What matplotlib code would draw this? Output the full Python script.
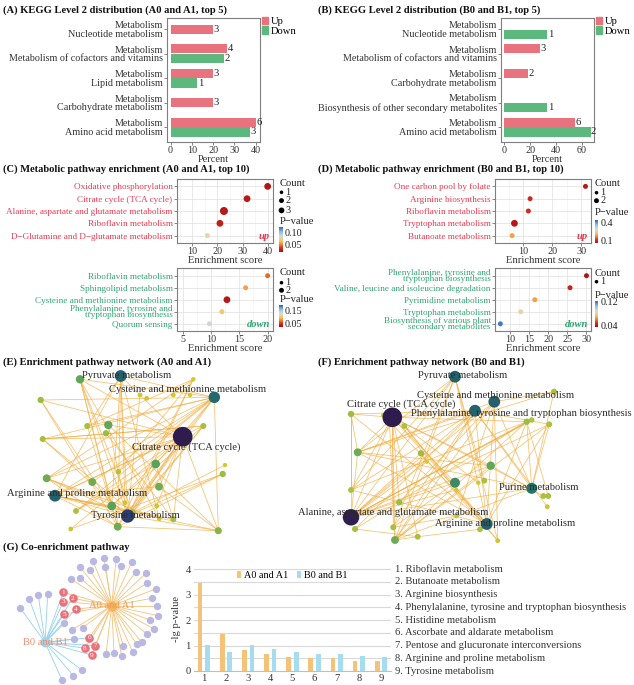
import matplotlib
matplotlib.use("Agg")
import matplotlib.pyplot as plt
import numpy as np
from matplotlib.patches import Patch
from matplotlib.colors import LinearSegmentedColormap, Normalize
from matplotlib.cm import ScalarMappable
from matplotlib.collections import LineCollection
import matplotlib.transforms as mtransforms

plt.rcParams['font.family'] = ['Liberation Serif', 'DejaVu Serif']
plt.rcParams['axes.unicode_minus'] = True

# ------------------------------------------------------------------ data
# (A) KEGG level 2, A0 vs A1
kegg_A_cats = ["Nucleotide metabolism", "Metabolism of cofactors and vitamins",
               "Lipid metabolism", "Carbohydrate metabolism", "Amino acid metabolism"]
kegg_A_up_pct = [20.0, 26.7, 20.0, 20.0, 40.0]
kegg_A_up_cnt = [3, 4, 3, 3, 6]
kegg_A_dn_pct = [None, 25.0, 12.5, None, 37.5]
kegg_A_dn_cnt = [None, 2, 1, None, 3]

# (B) KEGG level 2, B0 vs B1
kegg_B_cats = ["Nucleotide metabolism", "Metabolism of cofactors and vitamins",
               "Carbohydrate metabolism", "Biosynthesis of other secondary metabolites",
               "Amino acid metabolism"]
kegg_B_up_pct = [None, 27.3, 18.2, None, 54.5]
kegg_B_up_cnt = [None, 3, 2, None, 6]
kegg_B_dn_pct = [33.3, None, None, 33.3, 66.7]
kegg_B_dn_cnt = [1, None, None, 1, 2]

# (C) enrichment A0/A1
enr_Cu_terms = ["Oxidative phosphorylation", "Citrate cycle (TCA cycle)",
                "Alanine, aspartate and glutamate metabolism", "Riboflavin metabolism",
                "D\u2212Glutamine and D\u2212glutamate metabolism"]
enr_Cu_score = [40.0, 31.8, 22.6, 21.0, 16.0]
enr_Cu_count = [2, 2, 3, 2, 1]
enr_Cu_p = [0.020, 0.022, 0.022, 0.025, 0.075]

enr_Cd_terms = ["Riboflavin metabolism", "Sphingolipid metabolism",
                "Cysteine and methionine metabolism",
                "Phenylalanine, tyrosine and\ntryptophan biosynthesis", "Quorum sensing"]
enr_Cd_score = [20.0, 16.1, 12.8, 11.9, 9.7]
enr_Cd_count = [1, 1, 2, 1, 1]
enr_Cd_p = [0.065, 0.082, 0.032, 0.099, 0.124]

# (D) enrichment B0/B1
enr_Du_terms = ["One carbon pool by folate", "Arginine biosynthesis", "Riboflavin metabolism",
                "Tryptophan metabolism", "Butanoate metabolism"]
enr_Du_score = [31.4, 12.3, 11.7, 6.9, 6.1]
enr_Du_count = [1, 1, 1, 2, 1]
enr_Du_p = [0.076, 0.104, 0.104, 0.076, 0.193]

enr_Dd_terms = ["Phenylalanine, tyrosine and\ntryptophan biosynthesis",
                "Valine, leucine and isoleucine degradation", "Pyrimidine metabolism",
                "Tryptophan metabolism", "Biosynthesis of various plant\nsecondary metabolites"]
enr_Dd_score = [30.0, 25.7, 16.5, 12.8, 7.5]
enr_Dd_count = [1, 1, 1, 1, 1]
enr_Dd_p = [0.040, 0.045, 0.067, 0.084, 0.118]

# (E) network A0/A1 : layout x, layout y, centrality
netE_x = [80, 120.7, 193.3, 214.3, 40.7, 140, 146.7, 173.3, 190, 87.3, 108.3, 106, 203.3,
          182.7, 42.7, 155.7, 225, 222.7, 118.3, 46.7, 92.3, 159, 55, 111.7, 76, 125,
          156.7, 127.7, 132.7, 173.3, 117.7, 70.7, 218.3, 159.3]
netE_y = [379.3, 376, 379.3, 397.3, 400, 395, 398.3, 395, 395, 426, 425, 433.3, 426,
          436.7, 439, 464, 465, 474, 471.7, 478.3, 482, 486.7, 495.7, 506, 511, 502.7,
          506, 516, 512.7, 519.3, 526.7, 529, 530.7, 518.7]
netE_w = [0.28, 0.5, 0.03, 0.48, 0.15, 0.05, 0.05, 0.05, 0.03, 0.13, 0.28, 0.15, 0.13,
          1.0, 0.13, 0.3, 0.02, 0.15, 0.1, 0.25, 0.25, 0.25, 0.5, 0.3, 0.12, 0.05,
          0.05, 0.6, 0.15, 0.13, 0.25, 0.05, 0.2, 0.05]
netE_edges = [(1, 27), (1, 30), (1, 23), (1, 13), (1, 9), (1, 22), (1, 33), (1, 3),
              (0, 27), (0, 23), (0, 13), (0, 3), (0, 30),
              (3, 4), (3, 13), (3, 27), (3, 32), (3, 19), (3, 15), (3, 22), (3, 9),
              (4, 13), (4, 30), (4, 23),
              (13, 27), (13, 28), (13, 23), (13, 22), (13, 19), (13, 30), (13, 14), (13, 24),
              (13, 29), (13, 32), (13, 10), (13, 21),
              (27, 22), (27, 19), (27, 12), (27, 17), (27, 32), (27, 14), (27, 15), (27, 2),
              (27, 10), (27, 5),
              (22, 29), (22, 30), (22, 32), (22, 28), (22, 23), (22, 12),
              (19, 28), (19, 33), (19, 30), (19, 2), (28, 12), (28, 16), (28, 0),
              (14, 3), (14, 12), (14, 28), (15, 29), (15, 24), (2, 9), (2, 30), (2, 18),
              (17, 31), (17, 30), (31, 13), (32, 30), (32, 21), (12, 23), (12, 14),
              (9, 30), (10, 32), (11, 29), (18, 3), (20, 3), (21, 22), (24, 3), (26, 13),
              (25, 1), (33, 0)]
netE_labels = ["Pyruvate metabolism", "Cysteine and methionine metabolism",
               "Citrate cycle (TCA cycle)", "Arginine and proline metabolism",
               "Tyrosine metabolism"]

# (F) network B0/B1
netF_x = [455, 554, 494.3, 475, 392.3, 351, 383.3, 389, 404.3, 526.7, 531.7, 549.3, 357.7,
          421, 426.7, 490.7, 351, 455, 478.3, 484.3, 456.3, 531.7, 543.3, 548.3, 547.3,
          399.3, 351, 355, 393.3, 395, 417.7, 456.7, 486.7, 480, 497.7]
netF_y = [376.7, 391.7, 401.7, 410.7, 417.3, 414, 415, 413.3, 426, 421.7, 420, 424.3,
          452.3, 453.3, 461.7, 465.7, 490, 482.7, 482.7, 480.7, 490, 488.3, 496, 496,
          506.7, 502.3, 517.3, 529, 527.3, 540, 536.7, 516, 524, 529.3, 540.7]
netF_w = [0.5, 0.13, 0.5, 0.5, 1.0, 0.15, 0.03, 0.03, 0.12, 0.15, 0.1, 0.12, 0.25, 0.15,
          0.02, 0.28, 0.12, 0.38, 0.03, 0.12, 0.03, 0.45, 0.12, 0.12, 0.05, 0.15, 0.8,
          0.13, 0.13, 0.25, 0.12, 0.05, 0.5, 0.12, 0.05]
netF_edges = [(4, 26), (4, 5), (4, 12), (4, 16), (4, 28), (4, 29), (4, 32), (4, 17), (4, 3),
              (4, 15), (4, 21), (4, 30), (4, 9), (4, 25),
              (26, 3), (26, 2), (26, 9), (26, 11), (26, 15), (26, 17), (26, 21), (26, 10),
              (26, 0), (26, 12), (26, 5), (26, 13),
              (3, 16), (3, 29), (3, 28), (3, 27), (3, 32), (3, 21), (3, 12), (3, 5), (3, 11),
              (2, 25), (2, 29), (2, 12), (2, 32), (2, 21), (2, 34),
              (0, 29), (0, 28), (0, 32), (0, 16), (0, 12), (0, 34),
              (32, 5), (32, 12), (32, 8), (32, 11), (32, 9), (32, 16),
              (21, 11), (21, 12), (21, 29), (21, 1), (21, 9), (9, 29), (9, 16), (9, 27),
              (1, 12), (1, 2), (11, 29), (12, 15), (15, 29), (13, 34), (17, 28), (5, 12),
              (5, 16), (27, 30), (28, 31), (29, 30), (30, 33), (8, 34), (22, 15), (23, 9),
              (24, 3), (14, 26), (18, 4), (19, 0), (20, 26), (31, 2), (6, 32), (7, 29),
              (10, 26)]
netF_labels = ["Pyruvate metabolism", "Cysteine and methionine metabolism",
               "Citrate cycle (TCA cycle)",
               "Phenylalanine, tyrosine and tryptophan biosynthesis",
               "Purine metabolism", "Alanine, aspartate and glutamate metabolism",
               "Arginine and proline metabolism"]

# (G) co-enrichment network
g_hub_names = ["A0 and A1", "B0 and B1"]
g_hub_x = [111.7, 45]
g_hub_y = [605.7, 642.3]
g_shared_x = [63.3, 72.7, 63.3, 76, 64.3, 89.3, 95, 85, 91.7]
g_shared_y = [592.3, 598.3, 601.7, 609, 614, 637.7, 645.7, 648.3, 655]
g_onlyA_x = [92.7, 104, 116, 131.7, 80, 90, 105, 120.7, 135.7, 145.7, 71, 80, 146.7, 155.7,
             151.7, 157.3, 158.3, 150, 154, 146.7, 141.7, 136.7, 123.3, 132.7, 114, 106,
             121.7, 82.7, 71.7]
g_onlyA_y = [561, 557.7, 559, 562.3, 567.3, 570, 566.7, 565.7, 571.7, 573.3, 579, 577.7,
             583.3, 589, 598.3, 605.7, 615.7, 620, 629, 633.7, 642.3, 644.3, 645.7, 651.7,
             652.7, 654, 656, 627.7, 630]
g_onlyB_x = [20, 29.3, 38.3, 47.7, 62, 73.3, 81.7, 64.3, 74]
g_onlyB_y = [607.7, 599.3, 595, 594.3, 680, 675.7, 670, 623.3, 639]

# (G) co-enriched pathways, -lg p
co_terms = ["Riboflavin metabolism", "Butanoate metabolism", "Arginine biosynthesis",
            "Phenylalanine, tyrosine and tryptophan biosynthesis", "Histidine metabolism",
            "Ascorbate and aldarate metabolism", "Pentose and glucuronate interconversions",
            "Arginine and proline metabolism", "Tyrosine metabolism"]
co_A = [3.44, 1.45, 0.82, 0.67, 0.55, 0.52, 0.50, 0.38, 0.38]
co_B = [1.02, 0.73, 1.02, 0.86, 0.73, 0.67, 0.67, 0.58, 0.54]

# ------------------------------------------------------------------ style
UP_COL = "#e8727d"
DOWN_COL = "#5cb87c"
RED_TXT = "#e8384f"
GREEN_TXT = "#2fa36f"
GREY_SP = "#7f7f7f"
TXT = "#333333"

p_cmap = LinearSegmentedColormap.from_list("pv", [
    (0.0, "#a50f15"), (0.15, "#d7301f"), (0.3, "#f08a35"), (0.42, "#f3c45a"),
    (0.55, "#ddd8b8"), (0.65, "#cfd5dc"), (0.8, "#8cbde3"), (1.0, "#2b64b0")])
net_cmap = LinearSegmentedColormap.from_list("net", [
    (0.0, "#dccb2c"), (0.1, "#b5c23a"), (0.2, "#86b44b"), (0.32, "#4f9e5f"),
    (0.46, "#22706e"), (0.6, "#2b3d6c"), (0.78, "#2f1f4f"), (1.0, "#2d1c4c")])

W, H = 634, 685
fig = plt.figure(figsize=(W / 100, H / 100), dpi=100)


def ax_px(x0, y0, x1, y1, **kw):
    return fig.add_axes([x0 / W, 1 - y1 / H, (x1 - x0) / W, (y1 - y0) / H], **kw)


def ftext(x, y, s, **kw):
    fig.text(x / W, 1 - y / H, s, **kw)


def area_px(d_px):
    return (d_px * 0.72) ** 2


TITLE_KW = dict(fontsize=7.6, fontweight='bold', ha='left', va='center', color='#111111')
ENR_LAB = 6.6

# ------------------------------------------------------------------ KEGG bars


def kegg_panel(box, cats, up_pct, up_cnt, dn_pct, dn_cnt, xlim, xticks, dodge_single, legx):
    ax = ax_px(*box)
    n = len(cats)
    h = 0.38
    for i in range(n):
        both = up_pct[i] is not None and dn_pct[i] is not None
        for val, cnt, col, off in [(up_pct[i], up_cnt[i], UP_COL, -0.2),
                                   (dn_pct[i], dn_cnt[i], DOWN_COL, 0.2)]:
            if val is None:
                continue
            yy = i + (off if (both or dodge_single) else 0)
            ax.barh(yy, val, height=h, color=col, zorder=2)
            ax.text(val + (xlim[1] - xlim[0]) * 0.005, yy, str(cnt), va='center', ha='left',
                    fontsize=7.6, color='#222222')
    ax.set_ylim(n - 0.4, -0.45)
    ax.set_xlim(*xlim)
    ax.set_xticks(xticks)
    ax.set_yticks(range(n))
    ax.set_yticklabels(["Metabolism\n" + c for c in cats], fontsize=7.3, linespacing=0.95,
                       color=TXT)
    ax.tick_params(length=2, width=0.5, color='#555555', pad=1, labelsize=7.3,
                   labelcolor=TXT)
    for s in ax.spines.values():
        s.set_color(GREY_SP)
        s.set_linewidth(0.8)
    ax.set_xlabel("Percent", fontsize=7.5, labelpad=0, color=TXT)
    handles = [Patch(color=UP_COL, label='Up'), Patch(color=DOWN_COL, label='Down')]
    fig.legend(handles=handles, loc='upper left', bbox_to_anchor=(legx / W, 1 - 17 / H),
               frameon=False, fontsize=7.6, handlelength=0.6, handleheight=0.7,
               handletextpad=0.25, labelspacing=0.0, borderaxespad=0, borderpad=0)
    return ax


kegg_panel((167, 18.3, 260, 141.7), kegg_A_cats, kegg_A_up_pct, kegg_A_up_cnt,
           kegg_A_dn_pct, kegg_A_dn_cnt, (-1.7, 42), [0, 10, 20, 30, 40], False, 262)
ftext(3, 10, "(A) KEGG Level 2 distribution (A0 and A1, top 5)", **TITLE_KW)
kegg_panel((501, 18.3, 594, 141.7), kegg_B_cats, kegg_B_up_pct, kegg_B_up_cnt,
           kegg_B_dn_pct, kegg_B_dn_cnt, (-2.6, 69.4), [0, 20, 40, 60], True, 596)
ftext(317.5, 10, "(B) KEGG Level 2 distribution (B0 and B1, top 5)", **TITLE_KW)

# ------------------------------------------------------------------ enrichment dots
COUNT_D = {1: 5.0, 2: 6.8, 3: 8.0}
overlay_items = []


def enrich_panel(box, terms, scores, counts, pvals, txt_col, xlim, xticks, minor, tag,
                 vmin, vmax, cticks, clabels, count_levels, leg):
    ax = ax_px(*box)
    n = len(terms)
    y = np.arange(n)
    norm = Normalize(vmin, vmax)
    ax.scatter(scores, y, s=[area_px(COUNT_D[c]) for c in counts], c=pvals, cmap=p_cmap,
               norm=norm, zorder=3, linewidths=0)
    ax.set_ylim(n - 1 + 0.6, -0.6)
    ax.set_xlim(*xlim)
    ax.set_xticks(xticks)
    ax.set_xticks(minor, minor=True)
    ax.set_yticks(y)
    ax.set_yticklabels(terms, fontsize=ENR_LAB, linespacing=0.7)
    ax.grid(which='major', color='#e4e4e4', lw=0.6)
    ax.grid(which='minor', axis='x', color='#f0f0f0', lw=0.4)
    ax.set_axisbelow(True)
    ax.tick_params(length=2, width=0.5, color='#555555', pad=1, labelsize=7.3,
                   labelcolor=TXT)
    ax.tick_params(axis='y', labelsize=ENR_LAB)
    ax.tick_params(which='minor', length=0)
    for t in ax.get_yticklabels():
        t.set_color(txt_col)
    for s in ax.spines.values():
        s.set_color(GREY_SP)
        s.set_linewidth(0.8)
    ax.set_xlabel("Enrichment score", fontsize=7.6, labelpad=0, color=TXT)
    ax.text(0.97, 0.03, tag, transform=ax.transAxes, ha='right', va='bottom', fontsize=7.6,
            fontweight='bold', fontstyle='italic', color=txt_col)
    # legends
    ftext(leg['x'], leg['count_y'], "Count", fontsize=7.6, va='center', ha='left',
          color='#222222')
    for c, yy in zip(count_levels, leg['dot_ys']):
        overlay_items.append((leg['dot_x'], yy, COUNT_D[c] * 0.72))
        ftext(leg['dot_x'] + 4, yy, str(c), fontsize=7.3, va='center', ha='left',
              color='#222222')
    ftext(leg['x'], leg['p_y'], "P\u2212value", fontsize=7.6, va='center', ha='left',
          color='#222222')
    cx0, cy0, cx1, cy1 = leg['cb']
    cax = ax_px(cx0, cy0, cx1, cy1)
    cb = fig.colorbar(ScalarMappable(norm=norm, cmap=p_cmap), cax=cax, ticks=cticks)
    cb.outline.set_visible(False)
    cb.ax.set_yticklabels(clabels)
    cax.tick_params(length=0, labelsize=7.3, pad=1.5, labelcolor='#222222')
    return ax


enrich_panel((176.7, 179, 272.7, 243), enr_Cu_terms, enr_Cu_score, enr_Cu_count, enr_Cu_p,
             RED_TXT, (3.8, 42), [10, 20, 30, 40], [5, 15, 25, 35], "up",
             0.016, 0.127, [0.05, 0.10], ["0.05", "0.10"], [1, 2, 3],
             dict(x=279.3, count_y=183.3, dot_x=281.5, dot_ys=[192.3, 200.6, 210.4],
                  p_y=221, cb=(279, 226.7, 282.7, 251.7)))
enrich_panel((176.7, 268.5, 272.7, 331), enr_Cd_terms, enr_Cd_score, enr_Cd_count, enr_Cd_p,
             GREEN_TXT, (3.9, 20.9), [5, 10, 15, 20], [7.5, 12.5, 17.5], "down",
             0.024, 0.19, [0.05, 0.15], ["0.05", "0.15"], [1, 2],
             dict(x=279.3, count_y=272.3, dot_x=281.5, dot_ys=[282.7, 290.3],
                  p_y=300, cb=(279, 305, 282.7, 326.7)))
ftext(3, 169, "(C) Metabolic pathway enrichment (A0 and A1, top 10)", **TITLE_KW)

enrich_panel((495, 179, 590.7, 243), enr_Du_terms, enr_Du_score, enr_Du_count, enr_Du_p,
             RED_TXT, (0.2, 33.2), [10, 20, 30], [5, 15, 25], "up",
             0.057, 0.445, [0.1, 0.4], ["0.1", "0.4"], [1, 2],
             dict(x=594.3, count_y=183.7, dot_x=596.5, dot_ys=[192.7, 200.7],
                  p_y=212.3, cb=(594.5, 220, 598.2, 243.3)))
enrich_panel((495, 268.5, 590.7, 331), enr_Dd_terms, enr_Dd_score, enr_Dd_count, enr_Dd_p,
             GREEN_TXT, (6.1, 31.1), [10, 15, 20, 25, 30], [7.5, 12.5, 17.5, 22.5, 27.5],
             "down", 0.037, 0.123, [0.04, 0.12], ["0.04", "0.12"], [1],
             dict(x=594.3, count_y=273.3, dot_x=596.5, dot_ys=[281.7],
                  p_y=295, cb=(594.5, 300.7, 598.2, 326.7)))
ftext(317.5, 169, "(D) Metabolic pathway enrichment (B0 and B1, top 10)", **TITLE_KW)

# ------------------------------------------------------------------ networks E / F


def r_of(w):
    return 2 + 7.8 * w


def network(box, xs, ys, ws, edges, labels, label_xy):
    ax = ax_px(*box)
    ax.set_xlim(box[0], box[2])
    ax.set_ylim(box[3], box[1])
    ax.axis('off')
    segs = [[(xs[a], ys[a]), (xs[b], ys[b])] for a, b in edges]
    ax.add_collection(LineCollection(segs, colors="#f2ac3c", linewidths=0.55, alpha=0.75,
                                     zorder=1))
    order = np.argsort(ws)
    ax.scatter(np.array(xs)[order], np.array(ys)[order],
               s=[area_px(2 * r_of(ws[i])) for i in order],
               c=[net_cmap(ws[i]) for i in order], linewidths=0, zorder=2)
    for lab, (lx, ly) in zip(labels, label_xy):
        ax.text(lx, ly, lab, ha='center', va='center', fontsize=7.6, color='#2b2b2b',
                zorder=3)
    return ax


network((0, 365, 315, 545), netE_x, netE_y, netE_w, netE_edges, netE_labels,
        [(126.7, 376), (187.5, 389.3), (186, 446.7), (77, 493.3), (135.3, 515)])
ftext(3, 361.7, "(E) Enrichment pathway network (A0 and A1)", **TITLE_KW)
network((316, 365, 634, 545), netF_x, netF_y, netF_w, netF_edges, netF_labels,
        [(462.5, 375.7), (496, 395), (401.2, 404.3), (521.3, 413.3), (538.8, 487.3),
         (393.5, 512.7), (505, 523.3)])
ftext(318, 362.3, "(F) Enrichment pathway network (B0 and B1)", **TITLE_KW)

# ------------------------------------------------------------------ (G) network
ftext(3, 547.3, "(G) Co-enrichment pathway", **TITLE_KW)
gx = ax_px(0, 552, 185, 685)
gx.set_xlim(0, 185)
gx.set_ylim(685, 552)
gx.axis('off')
hubA = (g_hub_x[0], g_hub_y[0])
hubB = (g_hub_x[1], g_hub_y[1])
segA = [[hubA, (x, y)] for x, y in zip(g_onlyA_x + g_shared_x, g_onlyA_y + g_shared_y)]
segB = [[hubB, (x, y)] for x, y in zip(g_onlyB_x + g_shared_x, g_onlyB_y + g_shared_y)]
gx.add_collection(LineCollection(segA, colors="#f3c27a", linewidths=0.6, zorder=1))
gx.add_collection(LineCollection(segB, colors="#93d1ea", linewidths=0.6, zorder=1))
gx.scatter(g_onlyA_x + g_onlyB_x, g_onlyA_y + g_onlyB_y, s=area_px(7.4), c="#b9b8e2",
           linewidths=0, zorder=2)
gx.scatter(g_shared_x, g_shared_y, s=area_px(8.6), c="#e9737c", linewidths=0, zorder=2)
for i, (x, y) in enumerate(zip(g_shared_x, g_shared_y)):
    gx.text(x, y, str(i + 1), ha='center', va='center', fontsize=5.2, color='white',
            zorder=3)
gx.scatter([hubA[0]], [hubA[1]], s=area_px(10), c="#f3b45e", linewidths=0, zorder=2)
gx.scatter([hubB[0]], [hubB[1]], s=area_px(10), c="#9dd5ea", linewidths=0, zorder=2)
gx.text(hubA[0], hubA[1], g_hub_names[0], ha='center', va='center', fontsize=7.6,
        color="#f1975a", zorder=3)
gx.text(hubB[0], hubB[1], g_hub_names[1], ha='center', va='center', fontsize=7.6,
        color="#ee8c6e", zorder=3)

# ------------------------------------------------------------------ (G) bars
bx = ax_px(193.5, 566, 390.7, 671)
xpos = np.arange(1, len(co_terms) + 1)
bx.bar(xpos - 0.17, co_A, width=0.21, color="#f5c27a", zorder=2, label="A0 and A1")
bx.bar(xpos + 0.17, co_B, width=0.21, color="#a6dcef", zorder=2, label="B0 and B1")
bx.set_xlim(0.53, 9.44)
bx.set_ylim(0, 4.12)
bx.set_yticks([0, 1, 2, 3, 4])
bx.set_yticks([0.5, 1.5, 2.5, 3.5], minor=True)
bx.set_xticks(xpos)
bx.grid(axis='y', which='both', color='#d9d9d9', lw=0.8)
bx.set_axisbelow(True)
for k in ['left', 'top', 'right']:
    bx.spines[k].set_visible(False)
bx.spines['bottom'].set_color('#bfbfbf')
bx.tick_params(length=0, labelsize=7.6, labelcolor=TXT, pad=2)
bx.tick_params(which='minor', length=0)
bx.set_ylabel("-lg p-value", fontsize=7.6, color=TXT, labelpad=3)
trans = mtransforms.blended_transform_factory(bx.transAxes, bx.transData)
for i, name in enumerate(co_terms):
    bx.text(1.02, 4 - 0.5 * i, f"{i + 1}. {name}", transform=trans, va='center', ha='left',
            fontsize=7.6, color=TXT)
bx.legend(loc='upper center', bbox_to_anchor=(0.5, 0.99), ncol=2, frameon=False,
          fontsize=7.3, handlelength=0.35, handleheight=0.6, handletextpad=0.3,
          columnspacing=0.9, borderaxespad=0)

# ------------------------------------------------------------------ overlay legend dots
ov = fig.add_axes([0, 0, 1, 1])
ov.set_xlim(0, W)
ov.set_ylim(H, 0)
ov.axis('off')
ov.patch.set_alpha(0)
ov.scatter([o[0] for o in overlay_items], [o[1] for o in overlay_items],
           s=[area_px(o[2]) for o in overlay_items], c='black', linewidths=0)

fig.savefig("out.png", dpi=100)
